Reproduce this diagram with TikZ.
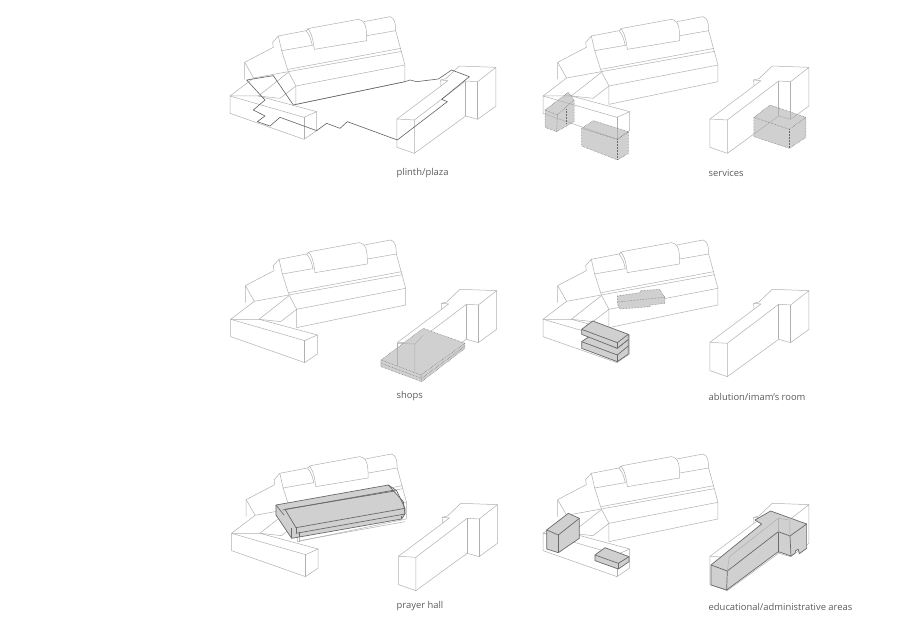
\documentclass[tikz,border=0pt]{standalone}
\usepackage{fontspec}
\setmainfont{Open Sans}
\definecolor{massgray}{HTML}{B0B0B0}
\definecolor{solidgray}{HTML}{D0D0D0}
\definecolor{edgegray}{HTML}{6A6A6A}
\definecolor{labelgray}{HTML}{5C5C5C}
\tikzset{
  crop/.style 2 args={shift={(#1,#2)},x=0.3333pt,y=-0.3333pt},
  massline/.style={draw=massgray,line width=0.5pt,line join=round},
  solid fill/.style={fill=solidgray,draw=none},
  dotline/.style={draw=edgegray,line width=0.5pt,densely dotted},
  darkline/.style={draw=edgegray,line width=0.7pt,line join=round},
  plinthline/.style={draw=black!62,line width=0.6pt,line join=round},
  caption/.style={anchor=west,text=labelgray,font=\fontsize{9.4}{11}\selectfont,inner sep=0pt}
}
\newcommand{\massing}{%
  % main building
  \draw[massline] (160,112)--(158,97)--(175,78)--(258,62);
  \draw[massline] (175,78)--(185,122)--(205,185)--(228,228)--(228,283)--(555,215)--(555,165)--(527,62);
  \draw[massline] (258,62)..controls(263,56)..(268,55)--(415,28)..controls(436,32)and(440,48)..(440,92)--(283,118)..controls(280,95)and(275,65)..(262,56);
  \draw[massline] (258,62)..controls(270,75)and(275,95)..(277,108);
  \draw[massline] (185,122)--(277,106);
  \draw[massline] (432,35)--(510,20)..controls(524,24)and(527,40)..(527,62)--(441,77);
  \draw[massline] (205,178)--(543,115);
  \draw[massline] (205,185)--(545,124);
  \draw[massline] (228,228)--(555,165);
  % left wing
  \draw[massline] (160,112)--(74,157)--(74,208);
  \draw[massline] (74,157)--(101,204)--(205,185);
  \draw[massline] (101,204)--(30,258);
  % lower-left block
  \draw[massline] (30,258)--(115,258)--(290,305)--(290,362)--(252,388)--(30,310)--cycle;
  \draw[massline] (30,258)--(252,322)--(290,305);
  \draw[massline] (252,322)--(252,388);
  \draw[massline] (115,258)--(205,187);
  \draw[massline] (115,258)--(180,265)--(228,228);
  % right block
  \draw[massline] (531,327)--(583,330)--(583,430)--(531,412)--cycle;
  \draw[massline] (583,430)--(737,318)--(773,328)--(828,288)--(828,172)--(773,215)--(737,213)--(583,330);
  \draw[massline] (737,213)--(737,318);
  \draw[massline] (773,215)--(773,328);
  \draw[massline] (531,327)--(663,228)--(662,210)--(678,206)--(718,168)--(828,172);
  \draw[massline] (662,210)--(684,212)--(663,228);
}
\begin{document}
\begin{tikzpicture}[x=1pt,y=-1pt]
\useasboundingbox (0,0) rectangle (900,630);
\fill[white] (0,0) rectangle (900,630);

% ---------- plinth/plaza
\begin{scope}[crop={220}{10}]
  \massing
  \draw[plinthline] (80,210)--(160,197)--(220,285)--(555,215)--(570,210)--(590,215)--(655,207)--(695,180)--(748,200)--(665,268)--(682,275)--(532,390)--(382,335)--(360,355)--(320,340)--(290,362)--(180,322)--(150,348)--(112,335)--(135,318)--(100,300)--(135,270)--cycle;
\end{scope}

% ---------- services
\begin{scope}[crop={530}{10}]
  \fill[solid fill] (45,300)--(115,247)--(132,270)--(132,335)--(80,365)--(45,352)--cycle;
  \fill[solid fill] (155,355)--(190,332)--(295,365)--(295,430)--(263,450)--(155,408)--cycle;
  \fill[solid fill] (672,322)--(720,285)--(828,322)--(828,382)--(778,415)--(672,380)--cycle;
\end{scope}
\begin{scope}[crop={533}{10}]
  \massing
\end{scope}
\begin{scope}[crop={530}{10}]
  \draw[dotline] (45,300)--(115,247)--(132,270)--(132,335)--(80,365)--(45,352)--cycle;
  \draw[dotline] (45,300)--(82,315)--(132,270);
  \draw[dotline] (82,315)--(80,365);
  \draw[dotline] (108,298)--(108,342);
  \draw[dotline] (155,355)--(190,332)--(295,365)--(295,430)--(263,450)--(155,408)--cycle;
  \draw[dotline] (155,355)--(263,388)--(295,365);
  \draw[dotline] (263,388)--(263,450);
  \draw[dotline] (672,322)--(720,285)--(828,322)--(828,382)--(778,415)--(672,380)--cycle;
  \draw[dotline] (672,322)--(778,358)--(828,322);
  \draw[dotline] (778,358)--(778,415);
\end{scope}

% ---------- shops
\begin{scope}[crop={220.7}{233.3}]
  \massing
\end{scope}
\begin{scope}[crop={220}{240}]
  \fill[solid fill] (483,360)--(610,265)--(735,310)--(735,325)--(605,425)--(483,380)--cycle;
  \draw[massline] (532,310)--(532,378);
  \draw[massline] (532,310)--(585,312)--(585,395);
  \draw[massline] (585,312)--(610,285);
  \draw[dotline] (483,360)--(610,265)--(735,310)--(735,325)--(605,425)--(483,380)--cycle;
  \draw[dotline] (483,360)--(603,405)--(735,310);
  \draw[dotline] (483,370)--(605,415)--(735,318);
  \draw[dotline] (603,405)--(605,425);
\end{scope}

% ---------- ablution/imam's room
\begin{scope}[crop={533}{233.3}]
  \massing
\end{scope}
\begin{scope}[crop={530}{240}]
  \filldraw[solid fill,darkline] (155,305)--(180,288)--(262,325)--(295,298)--(295,342)--(262,365)--(155,325)--cycle;
  \draw[darkline] (155,305)--(262,345)--(295,318);
  \draw[darkline] (262,345)--(262,365);
  \filldraw[solid fill,darkline] (155,268)--(188,243)--(295,283)--(295,298)--(262,325)--(155,283)--cycle;
  \draw[darkline] (155,268)--(262,308)--(295,283);
  \draw[darkline] (262,308)--(262,325);
  \filldraw[solid fill,dotline] (262,168)--(330,158)--(332,152)--(388,148)--(405,172)--(405,190)--(362,195)--(360,200)--(270,207)--(262,190)--cycle;
  \draw[dotline] (264,186)--(362,176)--(405,172);
\end{scope}

% ---------- prayer hall
\begin{scope}[crop={221.5}{447.3}]
  \massing
\end{scope}
\begin{scope}[crop={220}{450}]
  \filldraw[solid fill,darkline] (168,165)--(505,105)--(550,155)--(555,192)--(545,207)--(215,265)--(168,195)--cycle;
  \draw[darkline] (188,180)--(525,120);
  \draw[darkline] (195,178)--(530,122)--(555,175)--(555,192)--(228,250);
  \draw[darkline] (195,178)--(228,233)--(555,175);
  \draw[darkline] (228,233)--(228,250);
  \draw[darkline] (168,165)--(192,195);
  \draw[darkline] (505,105)--(530,122);
  \draw[darkline] (215,235)--(215,265);
  \draw[darkline] (238,245)--(238,262);
  \draw[darkline] (545,197)--(545,207);
  \draw[massline] (240,272)--(555,215);
  \draw[massline] (238,262)--(238,275);
\end{scope}

% ---------- educational/administrative areas
\begin{scope}[crop={533}{447.3}]
  \massing
\end{scope}
\begin{scope}[crop={530}{450}]
  \filldraw[solid fill,darkline] (50,240)--(115,190)--(148,205)--(148,265)--(85,308)--(50,297)--cycle;
  \draw[darkline] (50,240)--(85,255)--(148,205);
  \draw[darkline] (85,255)--(85,308);
  \filldraw[solid fill,darkline] (195,315)--(225,293)--(297,320)--(297,335)--(265,357)--(195,332)--cycle;
  \draw[darkline] (195,315)--(265,340)--(297,320);
  \draw[darkline] (265,340)--(265,357);
  \filldraw[solid fill,darkline] (543,345)--(695,222)--(675,210)--(722,183)--(830,222)--(830,295)--(808,311)--(805,298)--(797,302)--(795,310)--(783,318)--(745,305)--(590,420)--(543,405)--cycle;
  \draw[darkline] (543,345)--(592,363)--(745,245)--(780,258)--(830,222);
  \draw[darkline] (592,363)--(590,420);
  \draw[darkline] (745,245)--(745,305);
  \draw[darkline] (780,258)--(783,318);
  \draw[massline] (745,205)--(780,210)--(780,258);
  \draw[massline] (745,205)--(745,245);
  \draw[massline] (598,320)--(745,205);
  \draw[massline] (598,320)--(592,363);
\end{scope}

% ---------- labels
\node[caption] (lplinth) at (396.5,173) {plinth/plaza};
\node[caption] (lservices) at (708.5,173) {services};
\node[caption] (lshops) at (396.5,396.5) {shops};
\node[caption] (lablution) at (708.5,396.5) {ablution/imam’s room};
\node[caption] (lprayer) at (396.5,606.5) {prayer hall};
\node[caption] (leducational) at (708.5,606.5) {educational/administrative areas};
\end{tikzpicture}
\end{document}
